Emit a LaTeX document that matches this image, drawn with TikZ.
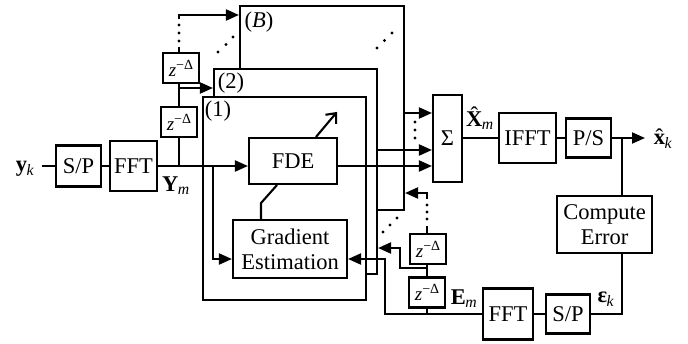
\documentclass[tikz,border=0pt]{standalone}
\usepackage{fontspec}
\setmainfont{Liberation Serif}
\usetikzlibrary{arrows.meta}
\newcommand{\zd}{{\fontsize{19}{20}\selectfont\textit{z}\raisebox{7pt}{\fontsize{14}{15}\selectfont −Δ}}}
\newcommand{\bsub}[2]{\textbf{#1}\textsubscript{\kern-0.5pt\textit{#2}}}
\newcommand{\hatlow}[1]{\ooalign{\textbf{#1}\cr\hidewidth ˆ\hidewidth\cr}}
\newcommand{\hatcap}[1]{\ooalign{\textbf{#1}\cr\hidewidth\raisebox{4.5pt}{ˆ}\hidewidth\cr}}
\begin{document}
\begin{tikzpicture}[x=1pt,y=-1pt,line width=2.1pt,
  cont/.style={draw,fill=white,inner sep=0pt},
  blk/.style={draw,fill=white,inner sep=0pt,align=center,font=\fontsize{22.5}{25}\selectfont},
  zb/.style={draw,fill=white,inner sep=0pt,minimum width=36pt,minimum height=30pt},
  lbl/.style={inner sep=0pt,font=\fontsize{22.5}{25}\selectfont},
  arr/.style={-{Triangle[length=13pt,width=11pt]}},
  dotf/.style={fill=black}]
\useasboundingbox (0,0) rectangle (688,343);

% stacked filter blocks
\node[cont,minimum width=164pt,minimum height=204pt] (bB) at (322,108) {};
\node[cont,minimum width=163pt,minimum height=205pt] (b2) at (295.5,171.5) {};
\node[cont,minimum width=163pt,minimum height=203pt] (b1) at (284.5,198.5) {};
\node[lbl] (lB) at (259,22) {(\textit{B})};
\node[lbl] (l2) at (231,83) {(2)};
\node[lbl] (l1) at (218,111) {(1)};
\foreach \p in {(218,52),(226,44.5),(233,37),(377,48),(384.5,40.5),(392,33),(383,232),(390,225),(397,218),(415,122),(415,130),(415,138),(179,25),(179,33),(179,41),(427,205),(427,212),(427,219)}
  \fill \p circle (1.6pt);

% input chain
\node[lbl] (yk) at (25,169) {\bsub{y}{k}};
\coordinate (yin) at (42,166);
\node[blk,minimum width=45pt,minimum height=41pt] (sp1) at (78.5,166) {S/P};
\node[blk,minimum width=47pt,minimum height=50pt] (fft1) at (133.5,166) {FFT};
\node[lbl] (Ym) at (176,186) {\bsub{Y}{m}};
\draw (yin) -- (sp1.west);
\draw (sp1.east) -- (fft1.west);

% FDE and gradient
\node[blk,minimum width=88pt,minimum height=46pt] (fde) at (293,161) {FDE};
\node[blk,minimum width=114pt,minimum height=58pt] (ge) at (290,249) {Gradient\\Estimation};
\draw[arr] (fft1.east) -- (fde.west |- fft1.east);
\coordinate (br) at (213,166);
\coordinate (gin) at (213,259);
\draw[arr] (br) -- (gin) -- (ge.west |- gin);
\draw ([xshift=-16pt]fde.south) -- ++(-16,18) -- ([xshift=-29pt]ge.north);
\draw[-{Straight Barb[length=8pt,width=14pt]}] ([xshift=23pt]fde.north) -- ++(21,-25);

% left delay line
\node[zb] (zl1) at (179,122) {\zd};
\node[zb] (zl2) at (181,68) {\zd};
\draw (zl1.south) -- (zl1.south |- fft1.east);
\draw (zl1.north) -- (zl1.north |- zl2.south);
\coordinate (t2) at (179,88);
\draw[arr] (t2) -- (b2.west |- t2);
\coordinate (tB1) at (179,47);
\coordinate (tB2) at (179,19);
\coordinate (tB) at (179,15);
\draw (zl2.north -| tB1) -- (tB1);
\draw[arr] (tB2) -- (tB) -- (bB.west |- tB);

% summation
\node[blk,minimum width=29pt,minimum height=87pt] (sig) at (447.5,138.5) {Σ};
\coordinate (yB) at (404,113);
\coordinate (y2) at (377,150);
\draw[arr] (bB.east |- yB) -- (sig.west |- yB);
\draw[arr] (b2.east |- y2) -- (sig.west |- y2);
\draw[arr] (fde.east |- fft1.east) -- (sig.west |- fft1.east);

% output chain
\node[blk,minimum width=57pt,minimum height=50pt] (ifft) at (527.5,138) {IFFT};
\node[blk,minimum width=45pt,minimum height=39pt] (ps) at (588.5,138) {P/S};
\node[lbl] (Xm) at (480,121) {\hatcap{X}\textsubscript{\kern-0.5pt\textit{m}}};
\coordinate (xo) at (645,138);
\node[lbl] (xk) at (663,141) {\hatlow{x}\textsubscript{\kern-0.5pt\textit{k}}};
\draw (sig.east |- ifft.west) -- (ifft.west);
\draw (ifft.east) -- (ps.west);
\draw[arr] (ps.east) -- (xo);

% error path
\node[blk,minimum width=95pt,minimum height=57pt] (ce) at (604.5,224.5) {Compute\\Error};
\coordinate (ct) at (622,138);
\draw (ct) -- (ct |- ce.north);
\node[blk,minimum width=50pt,minimum height=51pt] (fft2) at (508,314) {FFT};
\node[blk,minimum width=44pt,minimum height=39pt] (sp2) at (568,314) {S/P};
\node[lbl] (ek) at (606,299) {\bsub{ε}{k}};
\draw (ct |- ce.south) |- (sp2.east);
\draw (sp2.west) -- (fft2.east);

% right delay line
\node[zb] (zr1) at (427,292.5) {\zd};
\node[zb] (zr2) at (428,249) {\zd};
\node[lbl] (Em) at (464,299) {\bsub{E}{m}};
\coordinate (fb) at (385,314);
\draw[arr] (fft2.west) -- (fb) |- (ge.east |- gin);
\draw (zr1.south) -- (zr1.south |- fft2.west);
\draw (zr1.north) -- (zr1.north |- zr2.south);
\coordinate (tp) at (427,268);
\coordinate (tq) at (400,268);
\coordinate (tr) at (400,248);
\draw[arr] (tp) -- (tq) -- (tr) -- (b2.east |- tr);
\coordinate (u1) at (427,226);
\coordinate (u2) at (427,199);
\coordinate (u3) at (427,193);
\draw (zr2.north -| u1) -- (u1);
\draw[arr] (u2) -- (u3) -- (bB.east |- u3);
\end{tikzpicture}
\end{document}
